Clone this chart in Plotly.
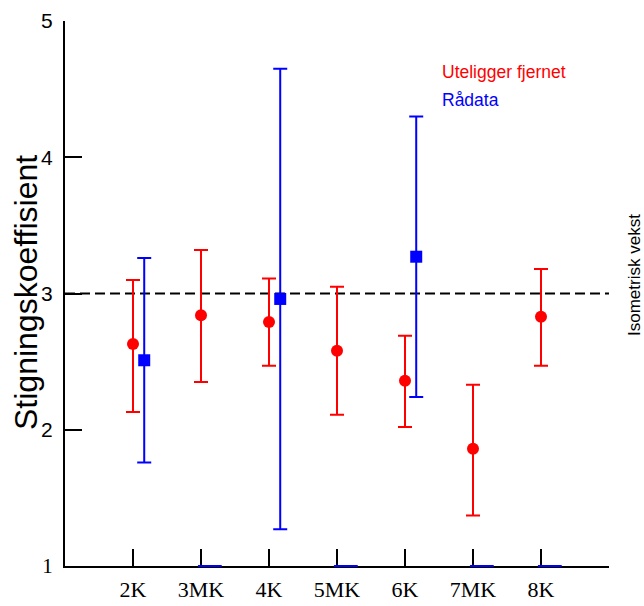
import plotly.graph_objects as go

categories = ["2K", "3MK", "4K", "5MK", "6K", "7MK", "8K"]
positions = [1, 2, 3, 4, 5, 6, 7]

# Uteligger fjernet (red)
red_val = [2.63, 2.84, 2.79, 2.58, 2.36, 1.86, 2.83]
red_hi = [3.10, 3.32, 3.11, 3.05, 2.69, 2.33, 3.18]
red_lo = [2.13, 2.35, 2.47, 2.11, 2.02, 1.37, 2.47]

# Rådata (blue) - only where available
blue_cats = ["2K", "4K", "6K"]
blue_val = [2.51, 2.96, 3.27]
blue_hi = [3.26, 4.65, 4.30]
blue_lo = [1.76, 1.27, 2.24]
blue_missing = ["3MK", "5MK", "7MK", "8K"]

iso_value = 3.0
y_ticks = [1, 2, 3, 4, 5]
x_ticks = [1, 2, 3, 4, 5, 6, 7, 8]

offset = 0.165
missing_offset = 0.13
pos_of = dict(zip(categories, positions))

fig = go.Figure()

fig.add_shape(type="line", xref="paper", x0=0, x1=1, yref="y", y0=iso_value, y1=iso_value,
              line=dict(color="black", width=2, dash="10px,5px"), layer="below")

fig.add_trace(go.Scatter(
    x=positions, y=red_val, mode="markers",
    marker=dict(color="#ff0000", size=12, symbol="circle"),
    error_y=dict(type="data", symmetric=False,
                 array=[h - v for h, v in zip(red_hi, red_val)],
                 arrayminus=[v - l for v, l in zip(red_val, red_lo)],
                 color="#ff0000", thickness=2, width=7),
    showlegend=False))

bx = [pos_of[c] + offset for c in blue_cats]
fig.add_trace(go.Scatter(
    x=bx, y=blue_val, mode="markers",
    marker=dict(color="#0000ff", size=12, symbol="square"),
    error_y=dict(type="data", symmetric=False,
                 array=[h - v for h, v in zip(blue_hi, blue_val)],
                 arrayminus=[v - l for v, l in zip(blue_val, blue_lo)],
                 color="#0000ff", thickness=2, width=7),
    showlegend=False))

fig.add_trace(go.Scatter(
    x=[pos_of[c] + missing_offset for c in blue_missing], y=[1] * len(blue_missing), mode="markers",
    marker=dict(symbol="line-ew", size=17, line=dict(color="#0000ff", width=2)),
    cliponaxis=False, showlegend=False))

fig.update_layout(
    width=644, height=606,
    margin=dict(l=65, r=35, t=21, b=40),
    paper_bgcolor="white", plot_bgcolor="white",
    showlegend=False,
    xaxis=dict(range=[0, 8], tickvals=x_ticks,
               ticktext=categories + [""],
               ticks="inside", ticklen=17, tickwidth=2, tickcolor="black",
               showline=True, linewidth=2, linecolor="black", showgrid=False, zeroline=False,
               tickfont=dict(family="Liberation Serif", size=22, color="black"),
               ticklabelstandoff=3, layer="below traces", automargin=False),
    yaxis=dict(range=[1, 5], tickvals=y_ticks,
               ticktext=["<span style='font-family:Liberation Serif'>1</span>", "2", "3", "4", "5"],
               ticks="inside", ticklen=17, tickwidth=2, tickcolor="black",
               showline=True, linewidth=2, linecolor="black", showgrid=False, zeroline=False,
               tickfont=dict(family="Liberation Sans", size=21, color="black"),
               ticklabelstandoff=6, automargin=False),
)

# text labels (pixel positions converted to paper coords)
def px_to_paper(px, py):
    return (px - 65) / 544, 1 - (py - 21) / 545

tx, ty = px_to_paper(26, 293)
fig.add_annotation(x=tx, y=ty, xref="paper", yref="paper", xanchor="center", yanchor="middle",
                   text="Stigningskoeffisient", showarrow=False, textangle=-90,
                   font=dict(family="Liberation Sans", size=32, color="black"))
lx, ly = px_to_paper(440, 72)
fig.add_annotation(x=lx, y=ly, xref="paper", yref="paper", xanchor="left", yanchor="middle",
                   text="Uteligger fjernet", showarrow=False,
                   font=dict(family="Liberation Sans", size=17.5, color="#ff0000"))
lx, ly = px_to_paper(440, 100)
fig.add_annotation(x=lx, y=ly, xref="paper", yref="paper", xanchor="left", yanchor="middle",
                   text="Rådata", showarrow=False,
                   font=dict(family="Liberation Sans", size=17.5, color="#0000ff"))
lx, ly = px_to_paper(634, 275)
fig.add_annotation(x=lx, y=ly, xref="paper", yref="paper", xanchor="center", yanchor="middle",
                   text="Isometrisk vekst", showarrow=False, textangle=-90,
                   font=dict(family="Liberation Sans", size=17, color="black"))

fig.write_html("out.html")
